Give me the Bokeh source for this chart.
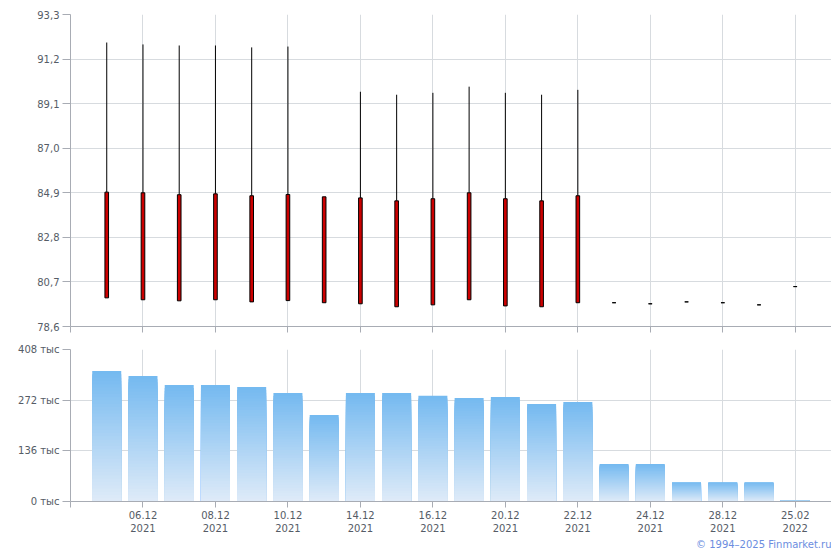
from bokeh.plotting import figure
from bokeh.layouts import column
from bokeh.models import FixedTicker, Range1d, Title, ColumnDataSource
from bokeh.embed import file_html
from bokeh.resources import INLINE

# ---- data ----
dates = ["03.12.2021", "06.12.2021", "07.12.2021", "08.12.2021", "09.12.2021",
         "10.12.2021", "13.12.2021", "14.12.2021", "15.12.2021", "16.12.2021",
         "17.12.2021", "20.12.2021", "21.12.2021", "22.12.2021", "23.12.2021",
         "24.12.2021", "27.12.2021", "28.12.2021", "29.12.2021", "25.02.2022"]
open_ = [84.93, 84.90, 84.81, 84.85, 84.76, 84.82, 84.71, 84.66, 84.52, 84.62,
         84.90, 84.62, 84.52, 84.76, 79.72, 79.67, 79.76, 79.72, 79.62, 80.48]
high = [91.98, 91.89, 91.84, 91.84, 91.75, 91.79, 84.71, 89.66, 89.52, 89.61,
        89.90, 89.61, 89.52, 89.75, 79.72, 79.67, 79.76, 79.72, 79.62, 80.48]
low = [79.95, 79.86, 79.81, 79.86, 79.76, 79.82, 79.72, 79.67, 79.53, 79.62,
       79.86, 79.57, 79.53, 79.72, 79.72, 79.67, 79.76, 79.72, 79.62, 80.48]
close = [79.95, 79.86, 79.81, 79.86, 79.76, 79.82, 79.72, 79.67, 79.53, 79.62,
         79.86, 79.57, 79.53, 79.72, 79.72, 79.67, 79.76, 79.72, 79.62, 80.48]
volume_k = [350.0, 336.7, 312.5, 312.6, 307.2, 291.1, 232.0, 291.1, 291.1, 283.6,
            278.0, 280.6, 261.8, 267.2, 100.4, 100.4, 52.0, 52.0, 52.0, 3.5]
price_ticks = [78.6, 80.7, 82.8, 84.9, 87.0, 89.1, 91.2, 93.3]
volume_ticks = [0, 136, 272, 408]
label_idx = [1, 3, 5, 7, 9, 11, 13, 15, 17, 19]

FONT = "DejaVu Sans"
TXT = "#555c66"
AXIS = "#a8acb4"
GRID = "#d7dbdf"

x = list(range(len(dates)))
n = len(dates)
body_top = [max(o, c) for o, c in zip(open_, close)]
body_bot = [min(o, c) for o, c in zip(open_, close)]

xticks = [-1] + label_idx
x_over = {i: "" for i in xticks}
for i in label_idx:
    d = dates[i]
    x_over[i] = d[:5] + "\n" + d[6:]


def style(p):
    p.outline_line_color = None
    p.background_fill_color = "white"
    p.border_fill_color = "white"
    for ax in (p.xaxis[0], p.yaxis[0]):
        ax.axis_line_color = AXIS
        ax.major_tick_line_color = AXIS
        ax.minor_tick_line_color = None
        ax.major_tick_in = 0
        ax.major_label_text_font = FONT
        ax.major_label_text_font_size = "10px"
        ax.major_label_text_color = TXT
    p.xaxis[0].major_tick_out = 6
    p.yaxis[0].major_tick_out = 8
    p.yaxis[0].major_label_standoff = 3
    p.xgrid.grid_line_color = GRID
    p.ygrid.grid_line_color = GRID
    p.xaxis[0].ticker = FixedTicker(ticks=xticks)
    p.xgrid.ticker = FixedTicker(ticks=label_idx)


# ---- price panel ----
top = figure(frame_width=761, frame_height=312, output_backend="svg",
             toolbar_location=None, x_range=Range1d(-1, n),
             y_range=Range1d(price_ticks[0], price_ticks[-1]),
             min_border_left=70, min_border_top=14, min_border_right=0,
             min_border_bottom=12)
style(top)
top.yaxis[0].ticker = FixedTicker(ticks=price_ticks)
top.yaxis[0].major_label_overrides = {t: f"{t:.1f}".replace(".", ",") for t in price_ticks}
top.xaxis[0].major_label_text_font_size = "0px"
top.xaxis[0].major_label_standoff = 0
top.xaxis[0].major_label_overrides = {i: "" for i in xticks}

src = ColumnDataSource(dict(x=x, high=high, low=low, bt=body_top, bb=body_bot))
top.segment(x0="x", x1="x", y0="high", y1="bt", source=src, line_color="black", line_width=1)
top.segment(x0="x", x1="x", y0="low", y1="bb", source=src, line_color="black", line_width=1)
top.vbar(x="x", top="bt", bottom="bb", width=0.1, source=src,
         fill_color="#cc0000", line_color="black", line_width=1)

# ---- volume panel ----
bot = figure(frame_width=761, frame_height=152, output_backend="svg",
             toolbar_location=None, x_range=top.x_range,
             y_range=Range1d(volume_ticks[0], volume_ticks[-1]),
             min_border_left=70, min_border_top=11, min_border_right=0,
             min_border_bottom=0)
style(bot)
bot.yaxis[0].ticker = FixedTicker(ticks=volume_ticks)
bot.yaxis[0].major_label_overrides = {t: f"{t} тыс" for t in volume_ticks}
bot.xaxis[0].major_label_overrides = x_over
bot.xaxis[0].major_label_standoff = 2

# gradient bars: layered strips, painted from the top colour downwards, so
# each bar gets its own blue (top) -> pale (bottom) gradient without gaps
c_top = (116, 185, 240)
c_bot = (223, 235, 248)
N = 40
xs, bs, ts, cs = [], [], [], []
for k in reversed(range(N)):
    f = (k + 0.5) / N
    col = tuple(int(round(c_bot[j] + (c_top[j] - c_bot[j]) * f)) for j in range(3))
    hexcol = "#%02x%02x%02x" % col
    for i, v in enumerate(volume_k):
        xs.append(i)
        bs.append(0)
        ts.append(v * (k + 1) / N)
        cs.append(hexcol)
bot.vbar(x=xs, bottom=bs, top=ts, width=0.8, fill_color=cs, line_color=None)

bot.add_layout(Title(text="© 1994–2025 Finmarket.ru", align="right",
                     text_font=FONT, text_font_size="10px", text_font_style="normal",
                     text_color="#6b8de0", standoff=0), "below")

layout = column(top, bot, spacing=0)
open("out.html", "w").write(file_html(layout, INLINE))
